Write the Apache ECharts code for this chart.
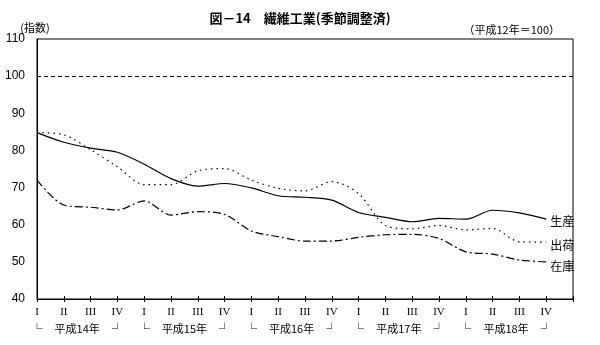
<!DOCTYPE html>
<html><head><meta charset="utf-8">
<script src="https://cdn.jsdelivr.net/npm/echarts@6/dist/echarts.min.js"></script>
<style>html,body{margin:0;padding:0;background:#fff}#c{width:600px;height:345px}</style>
</head><body><div id="c"></div>
<script>
var quarters = ['I','II','III','IV','I','II','III','IV','I','II','III','IV','I','II','III','IV','I','II','III','IV',''];
var years = ['平成14年','平成15年','平成16年','平成17年','平成18年'];
var production = [84.8, 82.2, 80.6, 79.5, 76.3, 72.4, 70.4, 71.1, 69.9, 67.8, 67.4, 66.6, 63.3, 62.0, 60.8, 61.7, 61.5, 63.9, 63.2, 61.5];
var shipments  = [84.8, 84.2, 80.2, 75.6, 70.8, 70.8, 74.5, 75.1, 72.0, 69.8, 69.1, 71.6, 68.4, 59.8, 58.9, 59.8, 58.6, 59.0, 55.4, 55.3];
var inventory  = [72.0, 65.3, 64.7, 64.0, 66.4, 62.6, 63.5, 62.8, 58.3, 56.8, 55.6, 55.6, 56.6, 57.3, 57.4, 56.3, 52.7, 52.1, 50.5, 50.0];
var seriesNames = ['生産','出荷','在庫'];
var yTicks = {min: 40, max: 110, step: 10};
var refLine = 100;

var JP = '"Noto Sans CJK JP", sans-serif';
var chart = echarts.init(document.getElementById('c'), null, {renderer: 'canvas'});
function mkSeries(name, data, type, width, offset) {
  return {
    name: name, type: 'line', data: data, smooth: 0.3, symbol: 'none',
    xAxisIndex: 0, yAxisIndex: 0,
    lineStyle: {color: '#000', width: width, type: type},
    endLabel: {show: true, formatter: name, color: '#000', fontSize: 12, fontFamily: JP, distance: 4, offset: offset},
    animation: false
  };
}
var s0 = mkSeries(seriesNames[0], production, 'solid', 1.2, [0, 2]);
s0.markLine = {silent: true, symbol: 'none', label: {show: false},
  lineStyle: {color: '#000', width: 1, type: [4, 3]}, data: [{yAxis: refLine}], animation: false};
var option = {
  animation: false,
  backgroundColor: '#fff',
  title: {text: '図－14　繊維工業(季節調整済)', left: 'center', top: 7,
    textStyle: {fontSize: 13, fontWeight: 'bold', fontFamily: JP, color: '#000'}},
  grid: {left: 37, right: 27, top: 39, bottom: 46, show: true, borderColor: '#000', borderWidth: 1},
  xAxis: [
    {type: 'category', data: quarters, boundaryGap: false, position: 'bottom',
      axisLine: {show: true, lineStyle: {color: '#000', width: 1}},
      axisTick: {show: true, length: 3, inside: false, lineStyle: {color: '#000'}},
      axisLabel: {color: '#000', fontSize: 11, fontFamily: '"Liberation Serif", serif', margin: 8, interval: 0},
      splitLine: {show: false}},
    {type: 'category', data: quarters, boundaryGap: false, position: 'bottom',
      axisLine: {show: false}, axisTick: {show: true, length: 3, inside: true, lineStyle: {color: '#000'}},
      axisLabel: {show: false}, splitLine: {show: false}},
    {type: 'value', min: 0, max: 20, interval: 0.5, position: 'bottom',
      axisLine: {show: false}, axisTick: {show: false}, splitLine: {show: false},
      axisLabel: {color: '#000', fontSize: 11, fontFamily: JP, margin: 24, showMinLabel: true, showMaxLabel: true,
        formatter: function (v) {
          var r = v % 4;
          var yi = Math.floor(v / 4);
          if (v >= 20) return '';
          if (r === 0) return '└';
          if (r === 3) return '┘';
          if (r === 1.5) return years[yi];
          return '';
        }}}
  ],
  yAxis: [{type: 'value', min: yTicks.min, max: yTicks.max, interval: yTicks.step,
    name: '(指数)', nameLocation: 'end', nameGap: 6,
    nameTextStyle: {color: '#000', fontSize: 11, fontFamily: JP, align: 'center', padding: [0, 0, 0, -4]},
    axisLine: {show: true, lineStyle: {color: '#000'}}, axisTick: {show: false},
    axisLabel: {color: '#000', fontSize: 12, fontFamily: '"Liberation Sans", sans-serif', margin: 12},
    splitLine: {show: false}}],
  graphic: [{type: 'text', right: 40, top: 24,
    style: {text: '（平成12年＝100）', fill: '#000', font: '11px "Noto Sans CJK JP", sans-serif'}}],
  series: [
    s0,
    mkSeries(seriesNames[1], shipments, [1.5, 4], 1.2, [0, 3]),
    mkSeries(seriesNames[2], inventory, [8, 3, 2, 3], 1.2, [0, 5])
  ]
};
chart.setOption(option);
</script></body></html>
